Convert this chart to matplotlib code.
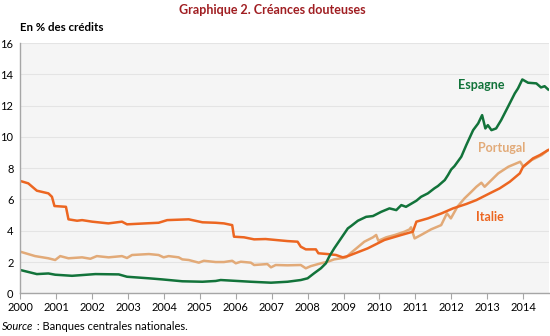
import matplotlib
matplotlib.use("Agg")
import matplotlib.pyplot as plt

plt.rcParams["font.family"] = ["Lato", "DejaVu Sans"]

# values (decimal year, % of loans)
italie_x = [2000.0, 2000.22, 2000.46, 2000.78, 2000.88, 2000.95, 2001.27, 2001.34, 2001.58, 2001.72,
            2002.0, 2002.45, 2002.83, 2002.97, 2003.48, 2003.85, 2004.09, 2004.69, 2005.07, 2005.44,
            2005.67, 2005.9, 2005.95, 2006.23, 2006.51, 2006.83, 2007.44, 2007.72, 2007.81, 2007.95,
            2008.23, 2008.30, 2008.56, 2008.79, 2008.98, 2009.12, 2009.67, 2010.14, 2010.61, 2010.93,
            2011.03, 2011.35, 2011.73, 2012.05, 2012.42, 2012.70, 2013.07, 2013.35, 2013.63, 2013.91,
            2014.0, 2014.28, 2014.47, 2014.70]
italie_y = [7.18, 7.03, 6.56, 6.39, 6.17, 5.58, 5.53, 4.73, 4.64, 4.68,
            4.58, 4.47, 4.58, 4.41, 4.47, 4.51, 4.68, 4.73, 4.54, 4.51,
            4.47, 4.36, 3.62, 3.58, 3.45, 3.47, 3.34, 3.30, 2.98, 2.81,
            2.81, 2.56, 2.51, 2.45, 2.30, 2.38, 2.87, 3.41, 3.73, 3.94,
            4.58, 4.79, 5.11, 5.43, 5.71, 5.96, 6.39, 6.71, 7.13, 7.67,
            8.09, 8.63, 8.84, 9.16]

portugal_x = [2000.0, 2000.41, 2000.78, 2000.97, 2001.11, 2001.34, 2001.72, 2001.95, 2002.13, 2002.46,
              2002.83, 2002.97, 2003.11, 2003.58, 2003.85, 2003.99, 2004.13, 2004.41, 2004.51, 2004.69,
              2004.97, 2005.11, 2005.44, 2005.67, 2005.9, 2006.0, 2006.14, 2006.42, 2006.51, 2006.88,
              2006.98, 2007.11, 2007.44, 2007.81, 2007.95, 2008.09, 2008.37, 2008.56, 2008.74, 2008.93,
              2009.07, 2009.21, 2009.58, 2009.82, 2009.91, 2009.97, 2010.19, 2010.43, 2010.70, 2010.84,
              2010.88, 2010.98, 2011.16, 2011.44, 2011.72, 2011.88, 2011.99, 2012.17, 2012.37, 2012.56,
              2012.70, 2012.84, 2012.93, 2013.12, 2013.31, 2013.59, 2013.92, 2014.01, 2014.24, 2014.52,
              2014.67]
portugal_y = [2.66, 2.38, 2.24, 2.13, 2.38, 2.24, 2.30, 2.21, 2.38, 2.30,
              2.38, 2.26, 2.45, 2.51, 2.45, 2.30, 2.38, 2.30, 2.17, 2.13,
              1.96, 2.08, 2.00, 2.00, 2.08, 1.92, 2.02, 1.96, 1.81, 1.87,
              1.66, 1.81, 1.79, 1.81, 1.60, 1.74, 1.92, 2.02, 2.17, 2.24,
              2.30, 2.59, 3.30, 3.58, 3.73, 3.36, 3.58, 3.73, 3.94, 4.09,
              4.22, 3.51, 3.73, 4.09, 4.36, 5.11, 4.79, 5.53, 6.07, 6.49,
              6.81, 7.07, 6.81, 7.24, 7.67, 8.09, 8.41, 8.09, 8.52, 8.84,
              9.11]

espagne_x = [2000.0, 2000.46, 2000.78, 2000.97, 2001.44, 2002.09, 2002.74, 2002.97, 2003.58, 2003.95,
             2004.51, 2005.07, 2005.44, 2005.58, 2006.42, 2006.98, 2007.44, 2007.81, 2008.0, 2008.18,
             2008.37, 2008.51, 2008.60, 2008.74, 2008.93, 2009.12, 2009.21, 2009.40, 2009.63, 2009.82,
             2010.05, 2010.28, 2010.47, 2010.61, 2010.74, 2011.03, 2011.16, 2011.35, 2011.53, 2011.63,
             2011.82, 2011.91, 2012.0, 2012.09, 2012.28, 2012.42, 2012.61, 2012.75, 2012.86, 2012.95,
             2013.02, 2013.12, 2013.25, 2013.39, 2013.58, 2013.77, 2013.86, 2013.98, 2014.14, 2014.37,
             2014.50, 2014.60, 2014.70]
espagne_y = [1.49, 1.23, 1.27, 1.19, 1.12, 1.23, 1.21, 1.06, 0.96, 0.89,
             0.77, 0.74, 0.79, 0.85, 0.74, 0.68, 0.74, 0.85, 0.96, 1.28,
             1.60, 1.92, 2.34, 2.87, 3.51, 4.15, 4.30, 4.64, 4.89, 4.94,
             5.21, 5.43, 5.32, 5.64, 5.53, 5.92, 6.17, 6.39, 6.71, 6.86,
             7.24, 7.56, 7.92, 8.13, 8.73, 9.48, 10.43, 10.86, 11.39, 10.54,
             10.75, 10.43, 10.54, 11.07, 11.92, 12.78, 13.10, 13.67, 13.46, 13.42,
             13.16, 13.24, 13.03]

years = list(range(2000, 2015))

C_ESP = "#12733a"
C_ITA = "#ec6621"
C_POR = "#e2aa78"

fig = plt.figure(figsize=(5.5, 3.36), dpi=100)
ax = fig.add_axes([0.037, 0.127, 0.961, 0.745])
ax.set_facecolor("#f5f5f5")

ax.plot(portugal_x, portugal_y, color=C_POR, lw=1.8, solid_joinstyle="round")
ax.plot(italie_x, italie_y, color=C_ITA, lw=1.8, solid_joinstyle="round")
ax.plot(espagne_x, espagne_y, color=C_ESP, lw=1.8, solid_joinstyle="round")

ax.set_xlim(2000, 2014.72)
ax.set_ylim(0, 16)
ax.set_yticks(range(0, 17, 2))
ax.set_xticks(years)
ax.set_xticklabels([str(y) for y in years])
ax.grid(axis="y", color="#e4e4e4", lw=0.8)
ax.set_axisbelow(True)
for s in ["top", "right"]:
    ax.spines[s].set_visible(False)
for s in ["left", "bottom"]:
    ax.spines[s].set_color("#a6a6a6")
    ax.spines[s].set_linewidth(1.0)
ax.tick_params(axis="x", length=4, color="#a6a6a6", labelsize=8, pad=2)
ax.tick_params(axis="y", length=0, labelsize=8, pad=5)

lbl = dict(fontsize=9, fontweight="bold", ha="center", va="center")
ax.text(2012.84, 13.3, "Espagne", color=C_ESP, **lbl)
ax.text(2013.4, 9.3, "Portugal", color=C_POR, **lbl)
ax.text(2013.09, 4.9, "Italie", color=C_ITA, **lbl)

fig.text(0.495, 0.97, "Graphique 2. Créances douteuses", color="#a01e22",
         fontsize=9, fontweight="bold", ha="center", va="center")
fig.text(0.037, 0.917, "En % des crédits", fontsize=8.3, fontweight="bold", ha="left", va="center")

src = fig.text(0.004, 0.027, "Source", fontsize=8, style="italic", ha="left", va="center")
renderer = fig.canvas.get_renderer()
bb = src.get_window_extent(renderer)
fig.text(bb.x1 / fig.bbox.width, 0.027, " : Banques centrales nationales.", fontsize=8,
         ha="left", va="center")

fig.savefig("out.png", dpi=100)
